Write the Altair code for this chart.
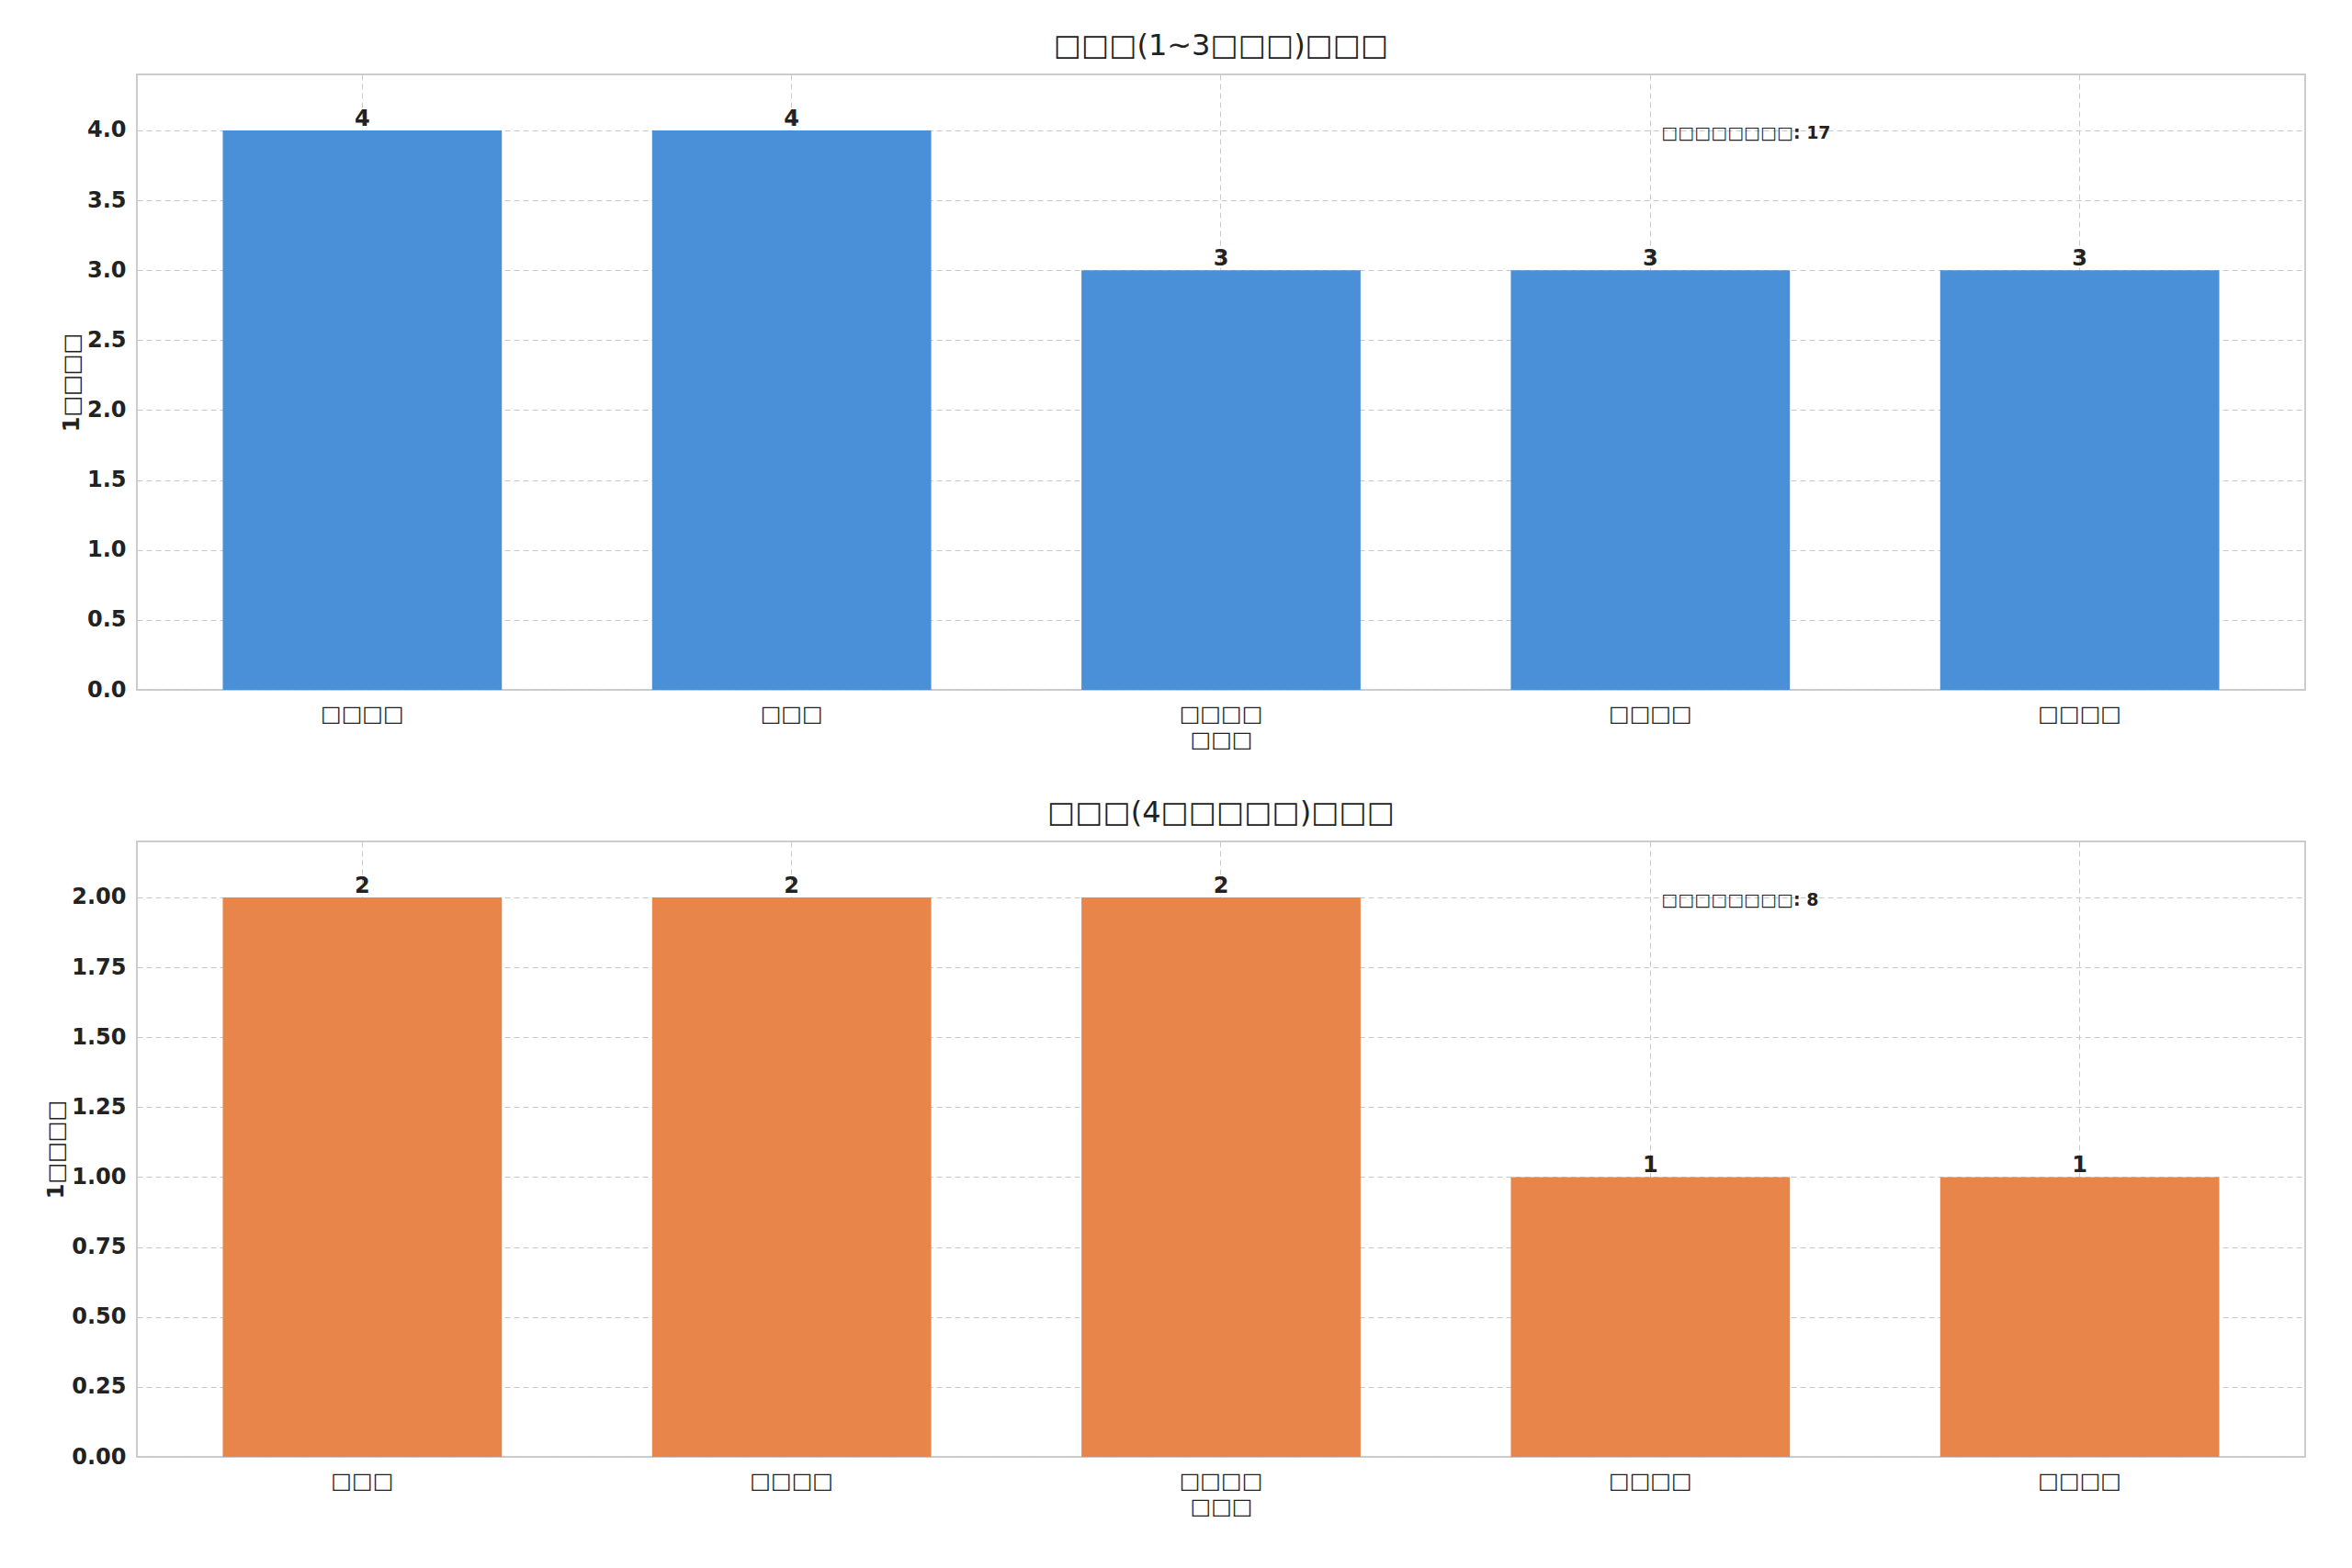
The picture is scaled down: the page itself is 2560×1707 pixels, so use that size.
import pandas as pd
import altair as alt

B = "\u25a1"
top_names = [B * 4, B * 3, B * 4, B * 4, B * 4]
top_values = [4, 4, 3, 3, 3]
bottom_names = [B * 3, B * 4, B * 4, B * 4, B * 4]
bottom_values = [2, 2, 2, 1, 1]

FONT = "DejaVu Sans"


def panel(names, values, color, title, ymax, step, fmt, note):
    keys = [f"c{i}" for i in range(len(names))]
    df = pd.DataFrame({"key": keys, "name": names, "value": values})
    label_expr = "{" + ",".join(f"'{k}':'{n}'" for k, n in zip(keys, names)) + "}[datum.value]"
    ticks = [round(i * step, 2) for i in range(int(ymax / step) + 1)]
    base = alt.Chart(df)
    bars = base.mark_bar(color=color).encode(
        x=alt.X("key:N", sort=keys, title=B * 3,
                scale=alt.Scale(paddingInner=0.35, paddingOuter=0.2),
                axis=alt.Axis(labelExpr=label_expr, labelAngle=0, labelFontSize=24,
                              titleFontSize=24, titleFontWeight="normal", grid=True,
                              gridDash=[6, 4], gridColor="#c8c8c8", domain=False,
                              ticks=False, labelPadding=14, bandPosition=0.5)),
        y=alt.Y("value:Q", title="1" + B * 4,
                scale=alt.Scale(domain=[0, ymax], nice=False),
                axis=alt.Axis(values=ticks, format=fmt, labelFontSize=24,
                              labelFontWeight="bold", titleFontSize=24,
                              titleFontWeight="bold", gridDash=[6, 4],
                              gridColor="#c8c8c8", domain=False, ticks=False,
                              labelPadding=12)),
    )
    labels = base.mark_text(fontSize=24, fontWeight="bold", dy=-12, color="#222222").encode(
        x=alt.X("key:N", sort=keys), y="value:Q", text="value:Q")
    note_df = pd.DataFrame({"key": [keys[3]], "value": [ymax * 0.905], "t": [note]})
    note_text = alt.Chart(note_df).mark_text(
        align="left", dx=12, fontSize=19, fontWeight="bold", color="#222222"
    ).encode(x=alt.X("key:N", sort=keys), y="value:Q", text="t:N")
    return (bars + labels + note_text).properties(
        width=2360, height=670,
        title=alt.TitleParams(title, fontSize=32, fontWeight="normal", color="#222222",
                              offset=14))


top = panel(top_names, top_values, "#4A90D9", B * 3 + "(1~3" + B * 3 + ")" + B * 3,
            4.4, 0.5, ".1f", B * 8 + ": 17")
bottom = panel(bottom_names, bottom_values, "#E8854A", B * 3 + "(4" + B * 5 + ")" + B * 3,
               2.2, 0.25, ".2f", B * 8 + ": 8")

chart = alt.vconcat(top, bottom, spacing=50).properties(
    padding={"left": 40, "top": 25, "right": 10, "bottom": 10}
).configure(font=FONT).configure_view(
    stroke="#cccccc", strokeWidth=2
).configure_axis(labelColor="#222222", titleColor="#222222")

chart.save("out.html", embed_options={"renderer": "svg", "actions": False})
